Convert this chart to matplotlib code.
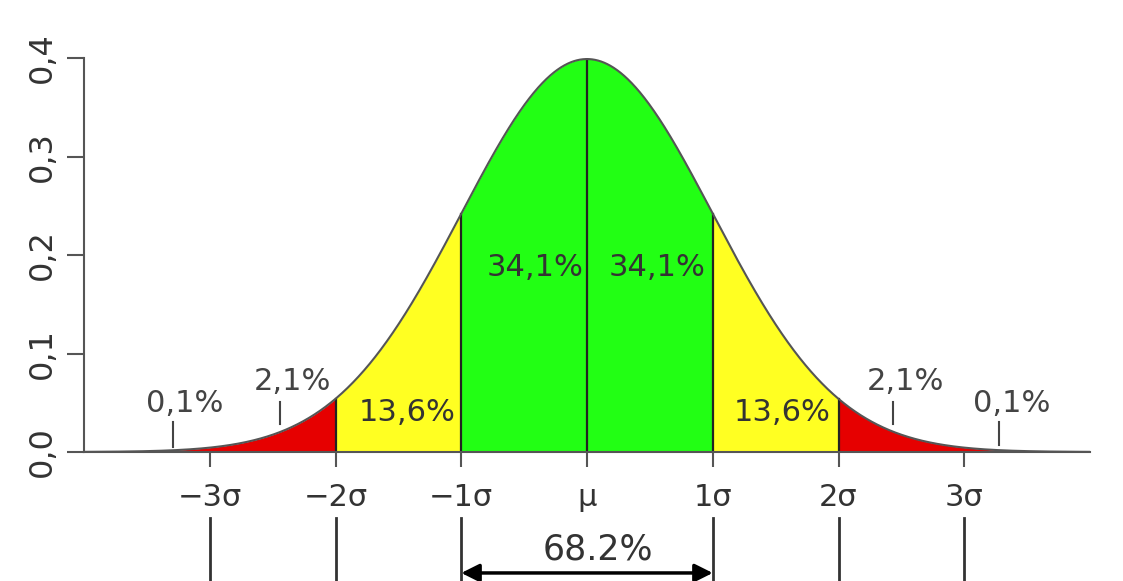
import numpy as np
import matplotlib
matplotlib.use("Agg")
import matplotlib.pyplot as plt

# ---- data ----
mu, sd = 0.0, 1.0
sigma_ticks = [-3, -2, -1, 0, 1, 2, 3]
sigma_labels = ['\u22123\u03c3', '\u22122\u03c3', '\u22121\u03c3', '\u03bc', '1\u03c3', '2\u03c3', '3\u03c3']
y_ticks = [0.0, 0.1, 0.2, 0.3, 0.4]
y_labels = ['0,0', '0,1', '0,2', '0,3', '0,4']
bands = [(-4, -2), (-2, -1), (-1, 0), (0, 1), (1, 2), (2, 4)]
band_colors = ['#e60000', '#ffff22', '#22ff14', '#22ff14', '#ffff22', '#e60000']
inner_labels = ['13,6%', '34,1%', '34,1%', '13,6%']
outer_labels = ['0,1%', '2,1%', '2,1%', '0,1%']
span_label = '68.2%'

# ---- layout ----
inner_pos = [(-1.43, 0.040), (-0.41, 0.187), (0.56, 0.187), (1.55, 0.040)]
outer_tick_x = [-3.29, -2.44, 2.43, 3.28]
outer_tick_y = [(0.005, 0.030), (0.028, 0.051), (0.028, 0.051), (0.007, 0.030)]
outer_text = [(-3.2, 0.035), (-2.34, 0.057), (2.53, 0.057), (3.38, 0.035)]

W, H = 1123, 581
fig = plt.figure(figsize=(W / 100, H / 100), dpi=100)
fig.patch.set_facecolor('white')
x0, x1 = 84, 1090
yb, yt = 452, 58
ax = fig.add_axes([x0 / W, (H - yb) / H, (x1 - x0) / W, (yb - yt) / H])

x = np.linspace(-4, 4, 2001)
pdf = np.exp(-0.5 * ((x - mu) / sd) ** 2) / (sd * np.sqrt(2 * np.pi))

for (a, b), c in zip(bands, band_colors):
    m = (x >= a) & (x <= b)
    ax.fill_between(x[m], 0, pdf[m], color=c, lw=0, zorder=1)

for s in [-2, -1, 0, 1, 2]:
    ax.plot([s, s], [0, np.exp(-0.5 * s * s) / np.sqrt(2 * np.pi)], color='#222222', lw=1.6, zorder=2)

ax.plot(x, pdf, color='#555555', lw=1.5, zorder=3)

ax.set_xlim(-4, 4)
ax.set_ylim(0, 0.4)
for sp in ['top', 'right']:
    ax.spines[sp].set_visible(False)
for sp in ['left', 'bottom']:
    ax.spines[sp].set_color('#555555')
    ax.spines[sp].set_linewidth(1.5)

ax.set_xticks(sigma_ticks)
ax.set_xticklabels(sigma_labels, fontsize=22, color='#333333')
ax.tick_params(axis='x', length=11, width=1.5, color='#555555', pad=11)
ax.set_yticks(y_ticks)
ax.set_yticklabels(y_labels, fontsize=23, color='#333333', rotation=90, va='center')
ax.tick_params(axis='y', length=12, width=1.5, color='#555555', pad=7)

for lab, (px, py) in zip(inner_labels, inner_pos):
    ax.text(px, py, lab, ha='center', va='center', fontsize=22, color='#333333', zorder=4)

for lab, tx, (ya, yb2), (px, py) in zip(outer_labels, outer_tick_x, outer_tick_y, outer_text):
    ax.plot([tx, tx], [ya, yb2], color='#444444', lw=1.5, zorder=4)
    ax.text(px, py, lab, ha='center', va='bottom', fontsize=22, color='#444444', zorder=4)

for s in [-3, -2, -1, 1, 2, 3]:
    ax.plot([s, s], [-0.067, -0.14], color='#333333', lw=2, clip_on=False)

ax.annotate('', xy=(1, -0.1228), xytext=(-1, -0.1228),
            arrowprops=dict(arrowstyle='<|-|>', color='black', lw=2.5,
                            mutation_scale=27, shrinkA=0, shrinkB=0),
            annotation_clip=False)
ax.text(0.09, -0.0985, span_label, ha='center', va='center', fontsize=25, color='#333333')

fig.savefig('out.png', dpi=100, facecolor='white')
